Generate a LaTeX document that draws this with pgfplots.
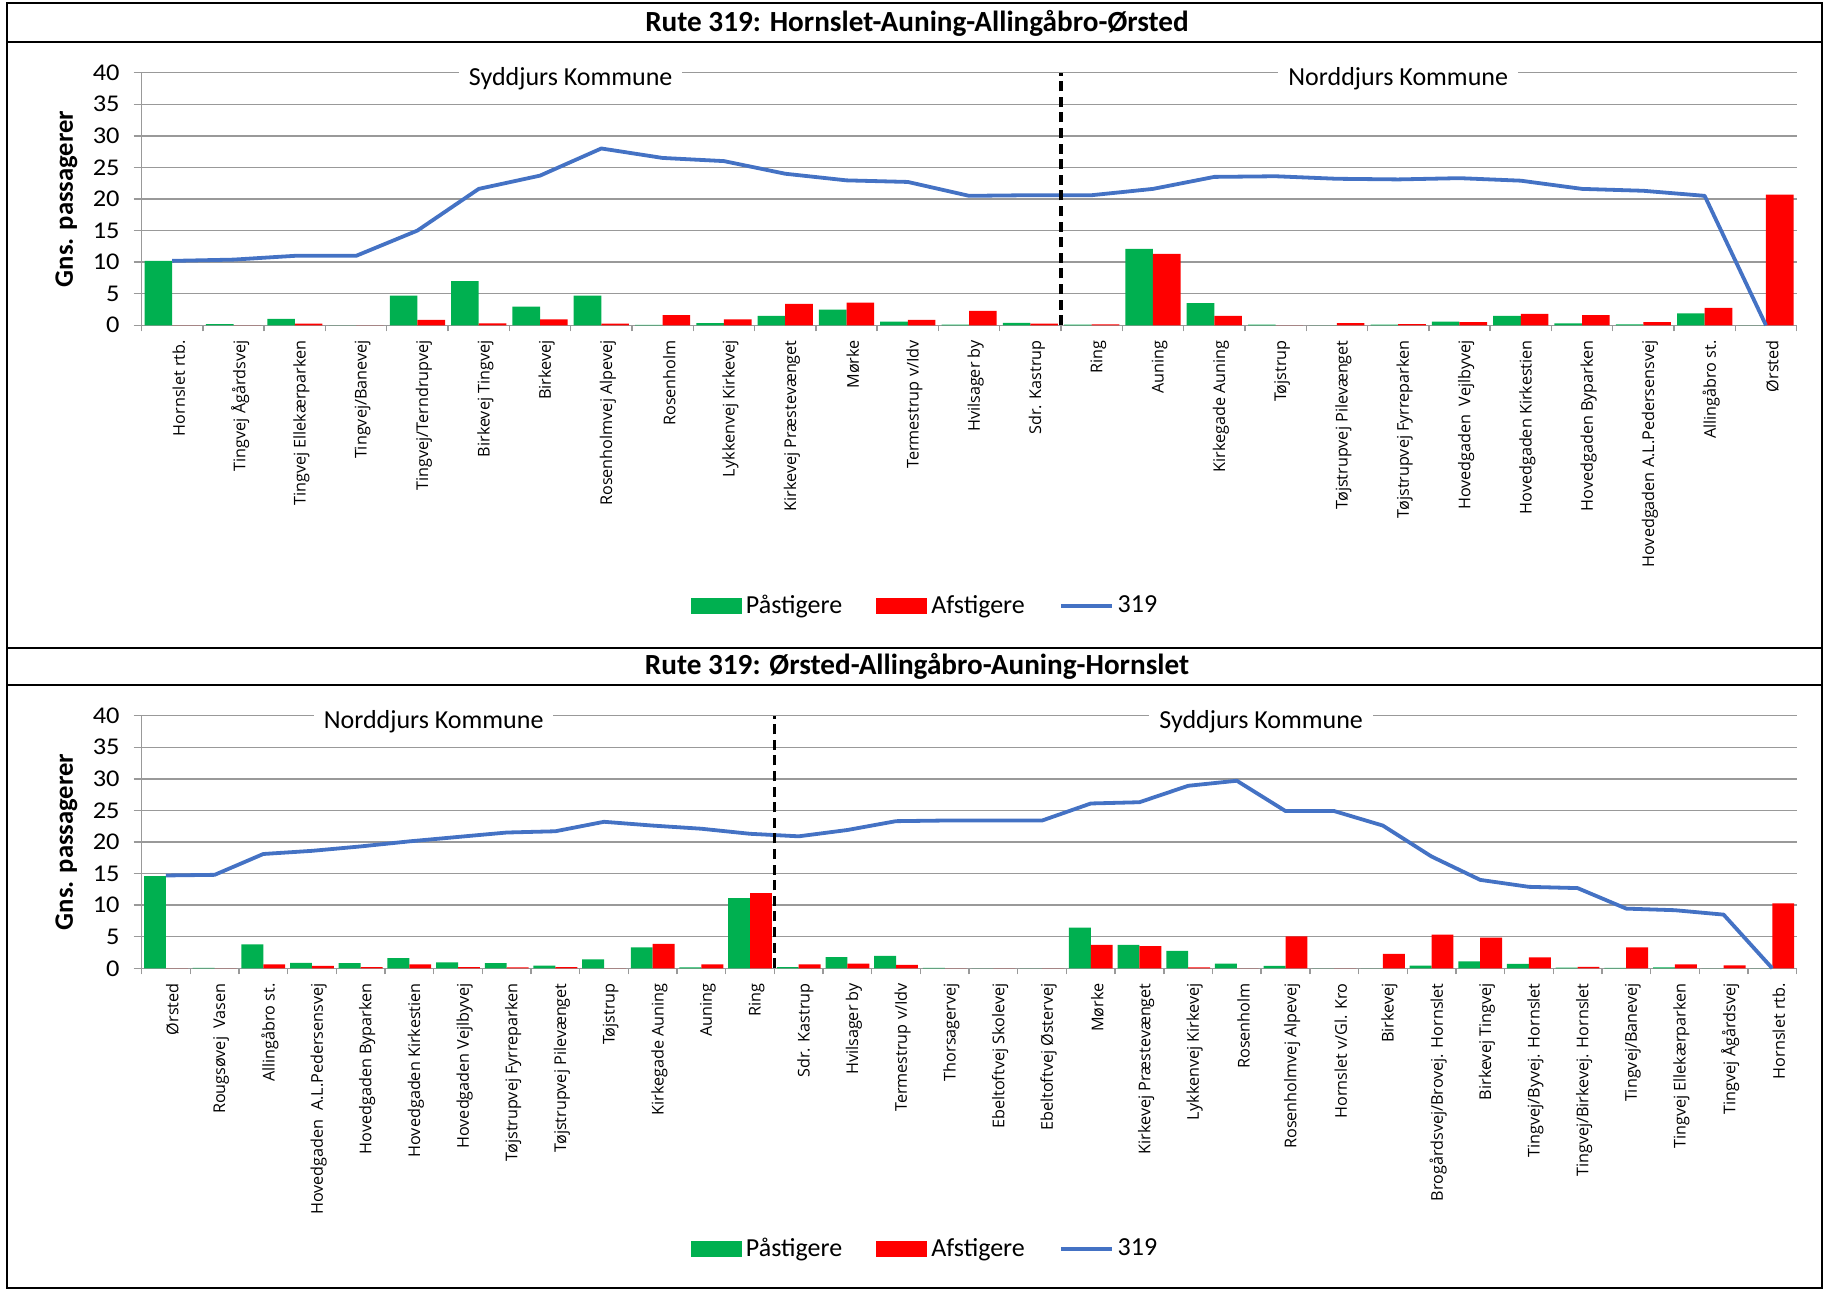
\documentclass[border=0pt]{standalone}
\usepackage{fontspec}
\setmainfont{Carlito}
\newfontfamily\osans{Open Sans}
\newfontfamily\tickfont[FakeStretch=1.1]{Carlito}
\usepackage{pgfplots}
\pgfplotsset{compat=1.18}
\usepackage{pgfplotstable}
\definecolor{cgreen}{HTML}{00B050}
\definecolor{cred}{HTML}{FF0000}
\definecolor{cblue}{HTML}{4472C4}
\definecolor{cgrid}{gray}{0.6}

\pgfplotstableread{
x on off load
1 10.2 0 10.2
2 0.2 0 10.4
3 1.0 0.26 11.0
4 0 0 11.0
5 4.7 0.85 15.0
6 7.0 0.3 21.6
7 2.95 0.95 23.7
8 4.7 0.26 28.0
9 0.05 1.6 26.5
10 0.35 0.95 26.0
11 1.5 3.4 24.0
12 2.5 3.6 22.95
13 0.6 0.85 22.7
14 0.1 2.3 20.5
15 0.4 0.26 20.6
16 0.1 0.15 20.6
17 12.1 11.3 21.6
18 3.5 1.5 23.5
19 0.1 0 23.6
20 0 0.35 23.2
21 0.1 0.2 23.1
22 0.6 0.5 23.3
23 1.5 1.8 22.9
24 0.3 1.6 21.6
25 0.15 0.5 21.3
26 1.9 2.75 20.5
27 0 20.7 0
}\topdata

\pgfplotstableread{
x on off load
1 14.6 0 14.7
2 0.05 0 14.8
3 3.8 0.63 18.1
4 0.85 0.37 18.6
5 0.8 0.2 19.3
6 1.6 0.63 20.1
7 0.95 0.2 20.8
8 0.8 0.15 21.5
9 0.42 0.2 21.7
10 1.4 0 23.2
11 3.3 3.85 22.6
12 0.15 0.63 22.1
13 11.1 11.9 21.3
14 0.2 0.63 20.9
15 1.75 0.74 21.9
16 1.95 0.53 23.3
17 0.05 0 23.4
18 0 0 23.4
19 0 0 23.4
20 6.45 3.7 26.1
21 3.7 3.5 26.3
22 2.75 0.15 28.9
23 0.74 0 29.7
24 0.37 5.07 24.9
25 0 0 24.9
26 0 2.27 22.6
27 0.42 5.33 17.7
28 1.1 4.85 14.0
29 0.69 1.74 12.9
30 0.1 0.21 12.7
31 0.05 3.3 9.45
32 0.15 0.63 9.2
33 0 0.47 8.5
34 0 10.3 0
}\botdata

\pgfplotsset{
  routestyle/.style={
    width=827.5bp, height=126.3bp, scale only axis,
    anchor=south west,
    ymin=0, ymax=40, ytick={0,5,...,40},
    ymajorgrids, major grid style={cgrid, line width=0.7bp},
    axis x line*=bottom, axis y line*=left,
    axis line style={cgrid, line width=0.7bp},
    tick align=outside,
    major tick length=4bp, minor tick length=3bp,
    ytick style={draw=cgrid, line width=0.7bp},
    major x tick style={draw=none},
    minor x tick style={draw=cgrid, line width=0.7bp},
    /pgf/number format/assume math mode=true,
    yticklabel style={font=\tickfont\fontsize{12bp}{14bp}\selectfont, text=black, xshift=-3.5bp},
    xticklabel style={font=\osans\fontsize{8.1bp}{9.5bp}\selectfont, rotate=90, anchor=east, yshift=-3.3bp, text=black},
    ylabel={Gns. passagerer},
    ylabel style={font=\fontsize{13.3bp}{15bp}\selectfont\bfseries, at={(axis description cs:-0.0454,0.5)}, anchor=center},
    clip=false,
    legend columns=3,
    legend style={draw=none, fill=none, at={(axis description cs:0.474,-1.111)}, anchor=center,
      font=\fontsize{13bp}{15bp}\selectfont,
      /tikz/every even column/.append style={column sep=15bp}},
  },
  greenbar/.style={ybar, bar width=0.45, bar shift=-0.225, fill=cgreen, draw=none,
    legend image code/.code={\fill[cgreen] (0bp,-4bp) rectangle (25.5bp,4bp);}},
  redbar/.style={ybar, bar width=0.45, bar shift=0.225, fill=cred, draw=none,
    legend image code/.code={\fill[cred] (0bp,-4bp) rectangle (25.5bp,4bp);}},
  loadline/.style={cblue, line width=1.9bp, line join=round, mark=none,
    legend image code/.code={\draw[cblue, line width=1.9bp] (0bp,0bp) -- (25.5bp,0bp);}},
}

\begin{document}
\begin{tikzpicture}
\path[use as bounding box] (0,0) rectangle (913.5bp,645bp);
\draw[line width=1bp] (3.5bp,1bp) rectangle (911bp,643.5bp);
\draw[line width=1bp] (3.5bp,624bp) -- (911bp,624bp);
\draw[line width=1bp] (3.5bp,321bp) -- (911bp,321bp);
\draw[line width=1bp] (3.5bp,302.5bp) -- (911bp,302.5bp);
\node[font=\fontsize{14.6bp}{16bp}\selectfont\bfseries] at (458.5bp,633.4bp) {Rute 319: Hornslet-Auning-Allingåbro-Ørsted};
\node[font=\fontsize{14.6bp}{16bp}\selectfont\bfseries] at (458.5bp,311.8bp) {Rute 319: Ørsted-Allingåbro-Auning-Hornslet};

\begin{axis}[routestyle, at={(70.8bp,482.35bp)},
  xmin=0.5, xmax=27.5,
  xtick={1,...,27},
  minor xtick={0.5,1.5,...,27.5},
  xticklabels={{Hornslet rtb.},{Tingvej Ågårdsvej},{Tingvej Ellekærparken},{Tingvej/Banevej},{Tingvej/Terndrupvej},{Birkevej Tingvej},{Birkevej},{Rosenholmvej Alpevej},{Rosenholm},{Lykkenvej Kirkevej},{Kirkevej Præstevænget},{Mørke},{Termestrup v/Idv},{Hvilsager by},{Sdr. Kastrup},{Ring},{Auning},{Kirkegade Auning},{Tøjstrup},{Tøjstrupvej Pilevænget},{Tøjstrupvej Fyrreparken},{Hovedgaden~ Vejlbyvej},{Hovedgaden Kirkestien},{Hovedgaden Byparken},{Hovedgaden A.L.Pedersensvej},{Allingåbro st.},{Ørsted}},
]
\addplot[greenbar] table[x=x,y=on] {\topdata};
\addlegendentry{Påstigere}
\addplot[redbar] table[x=x,y=off] {\topdata};
\addlegendentry{Afstigere}
\addplot[loadline] table[x=x,y=load] {\topdata};
\addlegendentry{319}
\draw[black, line width=1.6bp, dash pattern=on 5bp off 2.8bp] (axis cs:15.5,0) -- (axis cs:15.5,40);
\node[fill=white, inner xsep=5bp, inner ysep=1bp, anchor=base, font=\fontsize{13bp}{15bp}\selectfont] at (axis cs:7.5,38.05) {Syddjurs Kommune};
\node[fill=white, inner xsep=5bp, inner ysep=1bp, anchor=base, font=\fontsize{13bp}{15bp}\selectfont] at (axis cs:21,38.05) {Norddjurs Kommune};
\end{axis}

\begin{axis}[routestyle, at={(70.8bp,160.85bp)},
  xmin=0.5, xmax=34.5,
  xtick={1,...,34},
  minor xtick={0.5,1.5,...,34.5},
  xticklabels={{Ørsted},{Rougsøvej~ Vasen},{Allingåbro st.},{Hovedgaden~ A.L.Pedersensvej},{Hovedgaden Byparken},{Hovedgaden Kirkestien},{Hovedgaden Vejlbyvej},{Tøjstrupvej Fyrreparken},{Tøjstrupvej Pilevænget},{Tøjstrup},{Kirkegade Auning},{Auning},{Ring},{Sdr. Kastrup},{Hvilsager by},{Termestrup v/Idv},{Thorsagervej},{Ebeltoftvej Skolevej},{Ebeltoftvej Østervej},{Mørke},{Kirkevej Præstevænget},{Lykkenvej Kirkevej},{Rosenholm},{Rosenholmvej Alpevej},{Hornslet v/Gl. Kro},{Birkevej},{Brogårdsvej/Brovej. Hornslet},{Birkevej Tingvej},{Tingvej/Byvej. Hornslet},{Tingvej/Birkevej. Hornslet},{Tingvej/Banevej},{Tingvej Ellekærparken},{Tingvej Ågårdsvej},{Hornslet rtb.}},
]
\addplot[greenbar] table[x=x,y=on] {\botdata};
\addlegendentry{Påstigere}
\addplot[redbar] table[x=x,y=off] {\botdata};
\addlegendentry{Afstigere}
\addplot[loadline] table[x=x,y=load] {\botdata};
\addlegendentry{319}
\draw[black, line width=1.6bp, dash pattern=on 5bp off 2.8bp] (axis cs:13.5,0) -- (axis cs:13.5,40);
\node[fill=white, inner xsep=5bp, inner ysep=1bp, anchor=base, font=\fontsize{13bp}{15bp}\selectfont] at (axis cs:6.5,38.0) {Norddjurs Kommune};
\node[fill=white, inner xsep=5bp, inner ysep=1bp, anchor=base, font=\fontsize{13bp}{15bp}\selectfont] at (axis cs:23.5,38.0) {Syddjurs Kommune};
\end{axis}
\end{tikzpicture}
\end{document}
